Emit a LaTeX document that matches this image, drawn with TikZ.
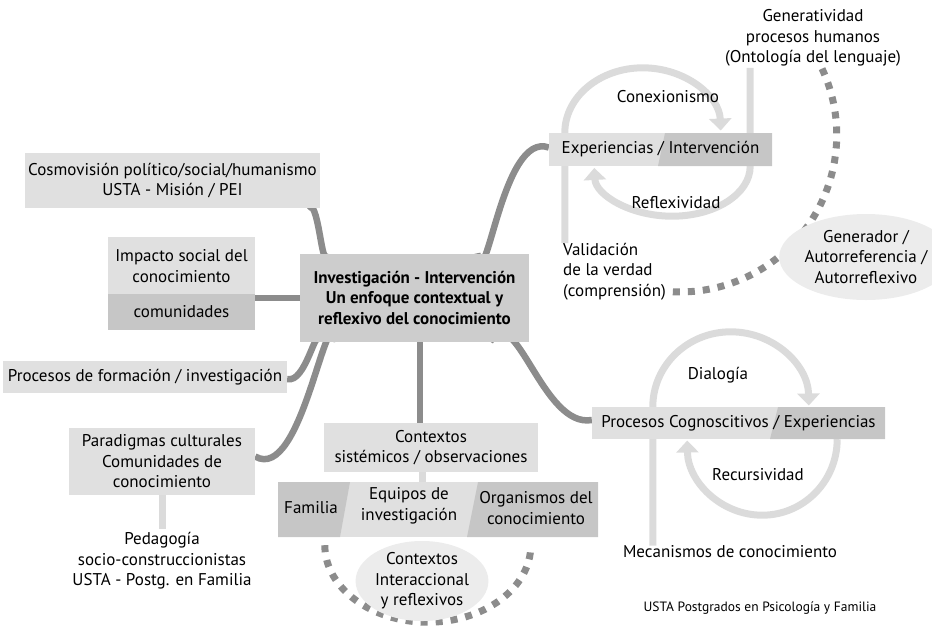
\documentclass[tikz,border=0pt]{standalone}
\usepackage{fontspec}
\setmainfont{PT Sans}
\usetikzlibrary{arrows.meta, positioning, shapes.geometric, backgrounds}

\definecolor{boxlight}{HTML}{E0E0E0}
\definecolor{boxdark}{HTML}{C6C6C6}
\definecolor{boxmid}{HTML}{CDCDCD}
\definecolor{linkdark}{HTML}{8C8C8C}
\definecolor{looplight}{HTML}{DBDBDB}
\definecolor{ovalfill}{HTML}{ECECEC}

\tikzset{
  lightbox/.style={fill=boxlight, inner sep=0pt, align=center},
  darkbox/.style={fill=boxdark, inner sep=0pt, align=center},
  label/.style={inner sep=0pt, align=center},
  oval/.style={ellipse, fill=ovalfill, inner sep=0pt, align=center},
  link/.style={linkdark, line width=6.5pt},
  loopline/.style={looplight, line width=7pt},
  dashlink/.style={linkdark, line width=7pt, dash pattern=on 7pt off 8pt},
  looparrow/.style={loopline, -{Triangle[width=22pt,length=12pt]}}
}

\begin{document}
\begin{tikzpicture}[x=1pt, y=-1pt, font=\fontsize{17}{20.5}\selectfont]
  \useasboundingbox (0,0) rectangle (932,625);

  % left branch
  \node[lightbox, minimum width=295, minimum height=55] (cosmo) at (172.5,180.5)
    {Cosmovisión político/social/humanismo\\USTA - Misión / PEI};
  \node[lightbox, minimum width=147, minimum height=58] (impacto) at (181.5,266)
    {Impacto social del\\conocimiento};
  \node[darkbox, minimum width=147, minimum height=36] (comun) at (181.5,312) {comunidades};
  \node[lightbox, minimum width=284, minimum height=32] (formacion) at (145,377)
    {Procesos de formación / investigación};
  \node[lightbox, minimum width=186, minimum height=67] (paradigmas) at (162,461.5)
    {Paradigmas culturales\\Comunidades de\\conocimiento};
  \node[label] (pedagogia) at (162,561)
    {Pedagogía\\socio-construccionistas\\USTA - Postg. en Familia};

  % centre
  \node[fill=boxmid, inner sep=0pt, align=center, minimum width=229, minimum height=88,
    font=\fontsize{17}{20.5}\selectfont\bfseries] (central) at (414.5,297.5)
    {Investigación - Intervención\\Un enfoque contextual y\\reflexivo del conocimiento};

  % bottom branch
  \node[lightbox, minimum width=214, minimum height=49] (contextos) at (431,447.5)
    {Contextos\\sistémicos / observaciones};
  \node[lightbox, minimum width=320, minimum height=55, path picture={
      \fill[boxdark] (path picture bounding box.north west) -- ([xshift=72]path picture bounding box.north west)
        -- ([xshift=62]path picture bounding box.south west) -- (path picture bounding box.south west) -- cycle;
      \fill[boxdark] ([xshift=-120]path picture bounding box.north east) -- (path picture bounding box.north east)
        -- (path picture bounding box.south east) -- ([xshift=-131]path picture bounding box.south east) -- cycle;
    }] (bar) at (438,509.5) {};
  \node[label] (familia) at (311,508) {Familia};
  \node[label] (equipos) at (409,506) {Equipos de\\investigación};
  \node[label] (organismos) at (536,508) {Organismos del\\conocimiento};
  \node[oval, minimum width=126, minimum height=74] (interac) at (422,581)
    {Contextos\\Interaccional\\y reflexivos};

  % top right
  \node[lightbox, minimum width=223, minimum height=33, path picture={
      \fill[boxdark] ([xshift=4.5]path picture bounding box.north) -- (path picture bounding box.north east)
        -- (path picture bounding box.south east) -- ([xshift=-2.5]path picture bounding box.south) -- cycle;
    }] (exper) at (660.5,149.5) {Experiencias / Intervención};
  \node[label] (gen) at (813,38) {Generatividad\\procesos humanos\\(Ontología del lenguaje)};
  \node[label] (conex) at (668,97) {Conexionismo};
  \node[label] (reflex) at (676,203) {Reflexividad};
  \node[label, align=left, anchor=north west] (valid) at (563,243)
    {Validación\\de la verdad\\(comprensión)};
  \node[oval, minimum width=136, minimum height=86] (genera) at (866,257)
    {Generador /\\Autorreferencia /\\Autorreflexivo};

  % bottom right
  \node[lightbox, minimum width=293, minimum height=32, path picture={
      \fill[boxdark] ([xshift=39.5]path picture bounding box.north) -- (path picture bounding box.north east)
        -- (path picture bounding box.south east) -- ([xshift=31.5]path picture bounding box.south) -- cycle;
    }] (proccog) at (738.5,423) {Procesos Cognoscitivos / Experiencias};
  \node[label] (dialog) at (718,375) {Dialogía};
  \node[label] (recurs) at (758,475) {Recursividad};
  \node[label] (mecan) at (730,552) {Mecanismos de conocimiento};
  \node[label, font=\fontsize{13.5}{16}\selectfont] (footer) at (760,608)
    {USTA Postgrados en Psicología y Familia};

  \begin{scope}[on background layer]
    % dark links from the centre
    \draw[link] ([xshift=-13]cosmo.south east) to[out=55, in=255] ([xshift=27]central.north west);
    \draw[link] ([yshift=-4]comun.north east) -- ([yshift=-4]comun.north east -| central.west);
    \draw[link] ([xshift=20]central.south west) to[out=100, in=345] ([yshift=-2]formacion.east);
    \draw[link] ([xshift=37]central.south west) to[out=100, in=330] ([yshift=5]paradigmas.east);
    \draw[link] ([xshift=5.5]central.south) -- ([xshift=5.5]central.south |- contextos.north);
    \draw[link] ([xshift=-39]central.south east) to[out=60, in=190] ([yshift=3]proccog.west);
    \draw[link] ([xshift=-52]central.north east) to[out=280, in=160] ([yshift=2]exper.west);

    % light links
    \draw[loopline] (paradigmas.south) -- ([yshift=3]pedagogia.north);
    \draw[loopline] ([xshift=-9]contextos.south) -- ([xshift=-9]contextos.south |- bar.north);

    % loops
    \draw[looparrow] ([xshift=16]exper.south west |- valid.north) -- ([xshift=16]exper.north west)
      arc[start angle=180, end angle=358, x radius=78, y radius=65];
    \draw[looparrow] ([xshift=-22, yshift=65]exper.north east) -- ([xshift=-22]exper.south east)
      arc[start angle=0, end angle=178, x radius=78, y radius=50];
    \draw[looparrow] ([xshift=61]proccog.south west |- mecan.north) -- ([xshift=61]proccog.north west)
      arc[start angle=180, end angle=359, x radius=78, y radius=75];
    \draw[looparrow] ([xshift=-48]proccog.south east)
      arc[start angle=0, end angle=179, x radius=75, y radius=76];

    % dashed arcs
    \draw[dashlink] ([xshift=9, yshift=-2]gen.south) arc[start angle=-25, end angle=94, radius=157];
    \draw[dashlink] ([xshift=47, yshift=-8]bar.south west) arc[start angle=180, end angle=0, x radius=103, y radius=77];
  \end{scope}
\end{tikzpicture}
\end{document}
